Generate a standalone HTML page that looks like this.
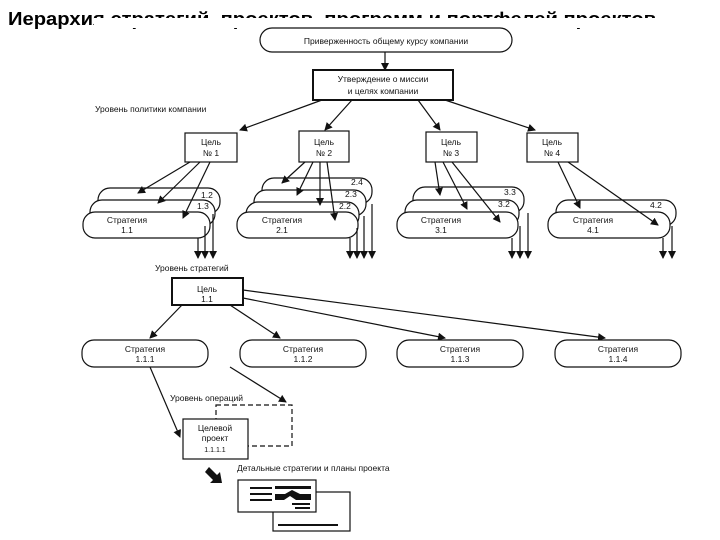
<!DOCTYPE html>
<html><head><meta charset="utf-8"><style>
body{margin:0;background:#fff;width:720px;height:540px;overflow:hidden}
svg{display:block}
text{font-family:"Liberation Sans",sans-serif;fill:#111}
</style></head><body>
<svg width="720" height="540" viewBox="0 0 720 540" xmlns="http://www.w3.org/2000/svg">
<defs><marker id="a" markerWidth="8" markerHeight="8" refX="7" refY="4" orient="auto" markerUnits="userSpaceOnUse"><path d="M0,0 L8,4 L0,8 z" fill="#111"/></marker></defs>
<text x="8" y="25" font-size="18" font-weight="bold" textLength="648" lengthAdjust="spacingAndGlyphs" style="fill:#000">Иерархия стратегий, проектов, программ и портфелей проектов</text>
<rect x="94" y="18" width="626" height="10" fill="#fff"/>
<g stroke="#111" fill="#fff" stroke-width="1.2">
<rect x="260" y="28" width="252" height="24" rx="12"/>
<line x1="385" y1="52" x2="385" y2="70" marker-end="url(#a)"/>
<rect x="313" y="70" width="140" height="30" stroke-width="2"/>
<line x1="322" y1="100" x2="240" y2="130" marker-end="url(#a)"/>
<line x1="352" y1="100" x2="325" y2="130" marker-end="url(#a)"/>
<line x1="418" y1="100" x2="440" y2="130" marker-end="url(#a)"/>
<line x1="445" y1="100" x2="535" y2="130" marker-end="url(#a)"/>
<rect x="185" y="133" width="52" height="29"/>
<rect x="299" y="131" width="50" height="31"/>
<rect x="426" y="132" width="51" height="30"/>
<rect x="527" y="133" width="51" height="29"/>
<rect x="98" y="188" width="122" height="26" rx="12"/>
<rect x="90" y="200" width="125" height="26" rx="12"/>
<rect x="83" y="212" width="127" height="26" rx="12"/>
<line x1="198" y1="238" x2="198" y2="258" marker-end="url(#a)"/>
<line x1="205" y1="226" x2="205" y2="258" marker-end="url(#a)"/>
<line x1="213" y1="214" x2="213" y2="258" marker-end="url(#a)"/>
<line x1="190" y1="162" x2="138" y2="193" marker-end="url(#a)"/>
<line x1="200" y1="162" x2="158" y2="203" marker-end="url(#a)"/>
<line x1="210" y1="162" x2="183" y2="218" marker-end="url(#a)"/>
<rect x="262" y="178" width="110" height="26" rx="12"/>
<rect x="254" y="190" width="112" height="26" rx="12"/>
<rect x="246" y="202" width="113" height="26" rx="12"/>
<rect x="237" y="212" width="121" height="26" rx="12"/>
<line x1="350" y1="238" x2="350" y2="258" marker-end="url(#a)"/>
<line x1="357" y1="228" x2="357" y2="258" marker-end="url(#a)"/>
<line x1="364" y1="216" x2="364" y2="258" marker-end="url(#a)"/>
<line x1="372" y1="204" x2="372" y2="258" marker-end="url(#a)"/>
<line x1="305" y1="162" x2="282" y2="183" marker-end="url(#a)"/>
<line x1="313" y1="162" x2="297" y2="195" marker-end="url(#a)"/>
<line x1="320" y1="162" x2="320" y2="205" marker-end="url(#a)"/>
<line x1="327" y1="162" x2="335" y2="220" marker-end="url(#a)"/>
<rect x="413" y="187" width="111" height="26" rx="12"/>
<rect x="405" y="200" width="114" height="26" rx="12"/>
<rect x="397" y="212" width="121" height="26" rx="12"/>
<line x1="512" y1="238" x2="512" y2="258" marker-end="url(#a)"/>
<line x1="520" y1="226" x2="520" y2="258" marker-end="url(#a)"/>
<line x1="528" y1="213" x2="528" y2="258" marker-end="url(#a)"/>
<line x1="435" y1="162" x2="440" y2="195" marker-end="url(#a)"/>
<line x1="443" y1="162" x2="467" y2="209" marker-end="url(#a)"/>
<line x1="452" y1="162" x2="500" y2="222" marker-end="url(#a)"/>
<rect x="556" y="200" width="120" height="26" rx="12"/>
<rect x="548" y="212" width="122" height="26" rx="12"/>
<line x1="663" y1="238" x2="663" y2="258" marker-end="url(#a)"/>
<line x1="672" y1="226" x2="672" y2="258" marker-end="url(#a)"/>
<line x1="558" y1="162" x2="580" y2="208" marker-end="url(#a)"/>
<line x1="568" y1="162" x2="658" y2="225" marker-end="url(#a)"/>
<rect x="172" y="278" width="71" height="27" stroke-width="2"/>
<line x1="182" y1="305" x2="150" y2="338" marker-end="url(#a)"/>
<line x1="230" y1="305" x2="280" y2="338" marker-end="url(#a)"/>
<line x1="243" y1="298" x2="445" y2="338" marker-end="url(#a)"/>
<line x1="243" y1="290" x2="605" y2="338" marker-end="url(#a)"/>
<rect x="82" y="340" width="126" height="27" rx="12"/>
<rect x="240" y="340" width="126" height="27" rx="12"/>
<rect x="397" y="340" width="126" height="27" rx="12"/>
<rect x="555" y="340" width="126" height="27" rx="12"/>
<line x1="150" y1="367" x2="180" y2="437" marker-end="url(#a)"/>
<line x1="230" y1="367" x2="286" y2="402" marker-end="url(#a)"/>
<rect x="216" y="405" width="76" height="41" stroke-dasharray="5,3"/>
<rect x="183" y="419" width="65" height="40"/>
<rect x="273" y="492" width="77" height="39"/>
<rect x="238" y="480" width="78" height="32"/>
</g>
<path d="M205,472 L213,480 L210,483 L222,483 L220,472 L217,475 L209,467 z" fill="#111"/>
<g fill="#111">
<rect x="250" y="487" width="22" height="2"/><rect x="250" y="493" width="22" height="2"/><rect x="250" y="499" width="22" height="2"/>
<rect x="275" y="486" width="36" height="3"/>
<path d="M275,494 L285,494 L292,490 L300,494 L311,494 L311,500 L296,500 L290,496 L284,500 L275,500z"/>
<rect x="292" y="503" width="18" height="2"/><rect x="295" y="507" width="15" height="2"/>
<rect x="278" y="524" width="60" height="2"/>
</g>
<g font-size="8.5" text-anchor="middle">
<text x="386" y="44">Приверженность общему курсу компании</text>
<text x="383" y="82">Утверждение о миссии</text>
<text x="383" y="94">и целях компании</text>
<text x="211" y="145">Цель</text><text x="211" y="156">№ 1</text>
<text x="324" y="145">Цель</text><text x="324" y="156">№ 2</text>
<text x="451" y="145">Цель</text><text x="451" y="156">№ 3</text>
<text x="552" y="145">Цель</text><text x="552" y="156">№ 4</text>
<text x="127" y="223">Стратегия</text><text x="127" y="233">1.1</text>
<text x="282" y="223">Стратегия</text><text x="282" y="233">2.1</text>
<text x="441" y="223">Стратегия</text><text x="441" y="233">3.1</text>
<text x="593" y="223">Стратегия</text><text x="593" y="233">4.1</text>
<text x="207" y="292">Цель</text><text x="207" y="302">1.1</text>
<text x="145" y="352">Стратегия</text><text x="145" y="362">1.1.1</text>
<text x="303" y="352">Стратегия</text><text x="303" y="362">1.1.2</text>
<text x="460" y="352">Стратегия</text><text x="460" y="362">1.1.3</text>
<text x="618" y="352">Стратегия</text><text x="618" y="362">1.1.4</text>
<text x="215" y="431">Целевой</text><text x="215" y="441">проект</text>
<text x="215" y="452" font-size="7">1.1.1.1</text>
</g>
<g font-size="8.5">
<text x="201" y="198">1.2</text><text x="197" y="209">1.3</text>
<text x="351" y="185">2.4</text><text x="345" y="197">2.3</text><text x="339" y="209">2.2</text>
<text x="504" y="195">3.3</text><text x="498" y="207">3.2</text>
<text x="650" y="208">4.2</text>
<text x="95" y="112">Уровень политики компании</text>
<text x="155" y="271">Уровень стратегий</text>
<text x="170" y="401">Уровень операций</text>
<text x="237" y="471">Детальные стратегии и планы проекта</text>
</g>
</svg>
</body></html>
